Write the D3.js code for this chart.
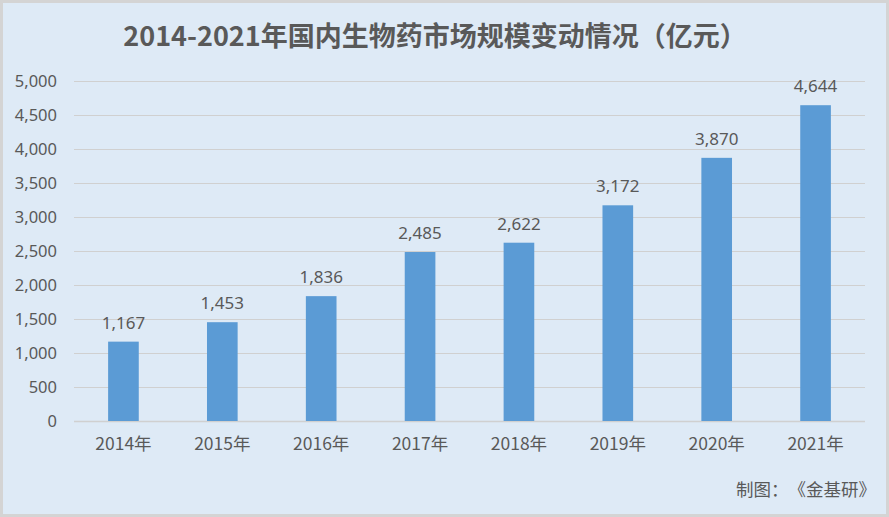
<!DOCTYPE html>
<html>
<head>
<meta charset="utf-8">
<script src="https://cdn.jsdelivr.net/npm/d3@7"></script>
<style>
  body { margin: 0; background: #fff; }
  svg text { font-family: "Noto Sans CJK SC", "Noto Sans", sans-serif; fill: #595959; text-spacing-trim: space-all; }
</style>
</head>
<body>
<svg width="889" height="517"></svg>
<script>
// 数据
let years = ['2014年', '2015年', '2016年', '2017年', '2018年', '2019年', '2020年', '2021年']
let values = [1167, 1453, 1836, 2485, 2622, 3172, 3870, 4644]
let yTicks = [0, 500, 1000, 1500, 2000, 2500, 3000, 3500, 4000, 4500, 5000]

let svg = d3.select('svg')

// 背景
svg.append('rect')
  .attr('x', 1.5).attr('y', 1.5)
  .attr('width', 886).attr('height', 514)
  .attr('fill', '#deeaf6')
  .attr('stroke', '#d4d4d4')
  .attr('stroke-width', 3)

let mLeft = 74, mRight = 865, mTop = 81, mBottom = 421

let x = d3.scaleBand().domain(years).range([mLeft, mRight]).paddingInner(0.69).paddingOuter(0.345)
let y = d3.scaleLinear().domain([0, 5000]).range([mBottom, mTop])

// 网格
svg.append('g').selectAll('line')
  .data(yTicks)
  .enter().append('line')
  .attr('x1', mLeft).attr('x2', mRight)
  .attr('y1', d => Math.round(y(d)) + 0.5).attr('y2', d => Math.round(y(d)) + 0.5)
  .attr('stroke', '#d0d0d0')
  .attr('stroke-width', d => d === 0 ? 1.5 : 1.2)

// y 轴
let fmt = d3.format(',')
let yAxis = d3.axisLeft(y).tickValues(yTicks).tickFormat(fmt).tickSize(0).tickPadding(17)
let ga = svg.append('g').attr('transform', `translate(${mLeft},0)`).call(yAxis)
ga.select('.domain').remove()
ga.selectAll('text').attr('font-size', 16.5).style('font-family', '"Noto Sans", sans-serif').attr('fill', '#595959')

// x 轴
let xAxis = d3.axisBottom(x).tickSize(0).tickPadding(17)
let gx = svg.append('g').attr('transform', `translate(0,${mBottom})`).call(xAxis)
gx.select('.domain').remove()
gx.selectAll('text').attr('font-size', 17.5).attr('fill', '#595959')

// 柱
svg.append('g').selectAll('rect')
  .data(values)
  .enter().append('rect')
  .attr('x', (d, i) => x(years[i]))
  .attr('width', x.bandwidth())
  .attr('y', d => y(d))
  .attr('height', d => mBottom - y(d))
  .attr('fill', '#5b9bd5')

// 数值标签
svg.append('g').selectAll('text')
  .data(values)
  .enter().append('text')
  .attr('x', (d, i) => x(years[i]) + x.bandwidth() / 2)
  .attr('y', d => y(d) - 13)
  .attr('text-anchor', 'middle')
  .attr('font-size', 17)
  .style('font-family', '"Noto Sans", sans-serif')
  .attr('fill', '#404040')
  .text(d => fmt(d))

// 标题
svg.append('text')
  .attr('x', 435).attr('y', 46)
  .attr('text-anchor', 'middle')
  .attr('font-size', 27)
  .attr('font-weight', 'bold')
  .text('2014-2021年国内生物药市场规模变动情况（亿元）')

// 来源
svg.append('text')
  .attr('x', 876).attr('y', 496)
  .attr('text-anchor', 'end')
  .attr('font-size', 17.5)
  .text('制图：《金基研》')
</script>
</body>
</html>
